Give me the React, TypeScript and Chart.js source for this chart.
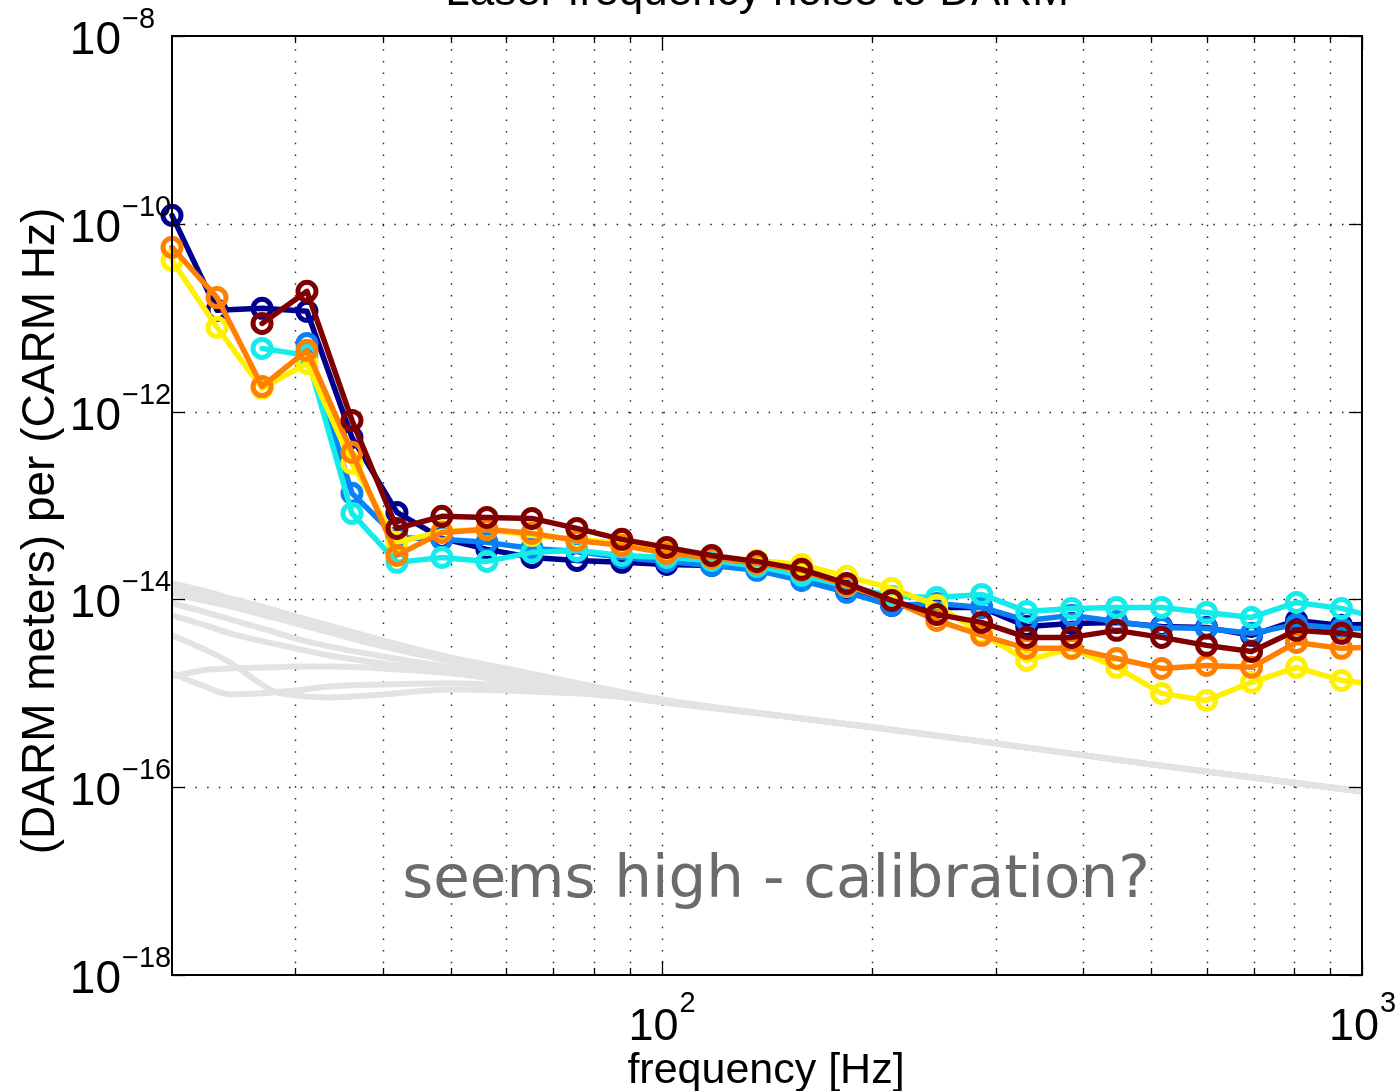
import React, { useEffect, useRef } from "react";
import { Chart, registerables } from "chart.js";

Chart.register(...registerables);

// ---------- data ----------
const frequencies = [
  20.0, 23.19, 26.89, 31.17, 36.14, 41.9, 48.57, 56.32, 65.29, 75.69, 87.75, 101.7, 117.9, 136.8,
  158.5, 183.8, 213.1, 247.1, 286.4, 332.1, 385.0, 446.3, 517.5, 599.9, 695.5, 806.3, 934.9, 1084,
];

const navySeries = [
  1.23e-10, 1.2e-11, 1.26e-11, 1.17e-11, 5.31e-13, 8.44e-14, 4.46e-14, 3.41e-14, 2.8e-14, 2.6e-14,
  2.48e-14, 2.36e-14, 2.3e-14, 2.14e-14, 1.67e-14, 1.22e-14, 8.63e-15, 8.22e-15, 8.22e-15, 5.16e-15,
  5.55e-15, 5.69e-15, 5.16e-15, 5.03e-15, 4.14e-15, 5.97e-15, 5.29e-15, 5.55e-15,
];
const blueSeries = [
  null, null, null, 5.32e-12, 1.35e-13, 4.57e-14, 4.36e-14, 4.05e-14, 3.49e-14, 3.24e-14,
  2.8e-14, 2.54e-14, 2.3e-14, 2.04e-14, 1.59e-14, 1.19e-14, 8.63e-15, 9.07e-15, 8.22e-15, 5.97e-15,
  6.76e-15, 5.83e-15, 5.03e-15, 4.91e-15, 4.35e-15, 5.42e-15, 4.91e-15, 4.91e-15,
];
const cyanSeries = [
  null, null, 4.71e-12, 3.97e-12, 8.24e-14, 2.48e-14, 2.8e-14, 2.54e-14, 3.17e-14, 3.32e-14,
  2.94e-14, 2.8e-14, 2.6e-14, 2.25e-14, 1.8e-14, 1.38e-14, 1.08e-14, 1.05e-14, 1.13e-14, 7.45e-15,
  8.02e-15, 8.22e-15, 8.22e-15, 7.27e-15, 6.43e-15, 9.29e-15, 8.02e-15, 6.0e-15,
];
const yellowSeries = [
  4.07e-11, 7.89e-12, 1.77e-12, 3.26e-12, 2.81e-13, 4.05e-14, 5.3e-14, 5.57e-14, 4.8e-14, 4.36e-14,
  3.95e-14, 3.32e-14, 2.8e-14, 2.6e-14, 2.36e-14, 1.76e-14, 1.31e-14, 8.63e-15, 4.35e-15, 2.24e-15,
  3.01e-15, 1.89e-15, 9.98e-16, 8.4e-16, 1.31e-15, 1.89e-15, 1.37e-15, 1.21e-15,
];
const orangeSeries = [
  5.61e-11, 1.64e-11, 1.85e-12, 4.49e-12, 3.68e-13, 2.94e-14, 5.17e-14, 5.57e-14, 5.05e-14, 4.25e-14,
  3.76e-14, 3.09e-14, 2.8e-14, 2.42e-14, 2.04e-14, 1.41e-14, 9.76e-15, 5.97e-15, 4.14e-15, 3.01e-15,
  3.01e-15, 2.35e-15, 1.84e-15, 1.98e-15, 1.89e-15, 3.48e-15, 3.01e-15, 3.16e-15,
];
const darkRedSeries = [
  null, null, 8.69e-12, 1.91e-11, 8.05e-13, 5.7e-14, 7.66e-14, 7.47e-14, 7.29e-14, 5.7e-14,
  4.36e-14, 3.58e-14, 2.94e-14, 2.54e-14, 2.09e-14, 1.48e-14, 9.76e-15, 6.92e-15, 5.69e-15, 3.94e-15,
  3.94e-15, 4.68e-15, 3.94e-15, 3.24e-15, 2.79e-15, 4.68e-15, 4.35e-15, 3.84e-15,
];

const seriesColors = ["#00008F", "#0A80F5", "#14EBEB", "#FFF000", "#FF8000", "#800000"];
const seriesNames = ["navy", "blue", "cyan", "yellow", "orange", "darkred"];

const grayFrequencies = [20, 22.1, 24.2, 27.8, 30, 33.5, 40, 50, 60, 80, 100, 150, 200, 300, 500, 1000];
const gray1 = [1.48e-14, 1.25e-14, 1.03e-14, 7.83e-15, 6.59e-15, 5.29e-15, 3.66e-15, 2.41e-15, 1.84e-15, 1.18e-15, 8.61e-16, 5.68e-16, 4.34e-16, 2.93e-16, 1.75e-16, 9.02e-17];
const gray2 = [1.31e-14, 1.1e-14, 9.29e-15, 7.09e-15, 5.97e-15, 4.79e-15, 3.4e-15, 2.3e-15, 1.75e-15, 1.15e-15, 8.4e-16, 5.68e-16, 4.34e-16, 2.93e-16, 1.75e-16, 9.02e-17];
const gray3 = [1.16e-14, 9.76e-15, 8.42e-15, 6.43e-15, 5.55e-15, 4.45e-15, 3.16e-15, 2.19e-15, 1.71e-15, 1.13e-15, 8.4e-16, 5.68e-16, 4.34e-16, 2.93e-16, 1.75e-16, 9.02e-17];
const gray4 = [9.07e-15, 7.45e-15, 6.12e-15, 4.56e-15, 3.84e-15, 3.16e-15, 2.47e-15, 1.89e-15, 1.55e-15, 1.07e-15, 8.2e-16, 5.68e-16, 4.34e-16, 2.93e-16, 1.75e-16, 9.02e-17];
const gray5 = [6.76e-15, 5.42e-15, 4.35e-15, 3.4e-15, 3.01e-15, 2.53e-15, 2.08e-15, 1.67e-15, 1.41e-15, 1.02e-15, 8.0e-16, 5.68e-16, 4.34e-16, 2.93e-16, 1.75e-16, 9.02e-17];
const gray6 = [4.14e-15, 3.01e-15, 2.13e-15, 1.07e-15, 9.5e-16, 9.04e-16, 9.73e-16, 1.1e-15, 1.07e-15, 9.7e-16, 8.2e-16, 5.68e-16, 4.34e-16, 2.93e-16, 1.75e-16, 9.02e-17];
const gray7 = [1.63e-15, 1.21e-15, 9.73e-16, 1.02e-15, 1.07e-15, 1.18e-15, 1.24e-15, 1.28e-15, 1.21e-15, 1.02e-15, 8.2e-16, 5.68e-16, 4.34e-16, 2.93e-16, 1.75e-16, 9.02e-17];
const gray8 = [1.51e-15, 1.75e-15, 1.84e-15, 1.89e-15, 1.93e-15, 1.93e-15, 1.84e-15, 1.63e-15, 1.37e-15, 1.07e-15, 8.4e-16, 5.68e-16, 4.34e-16, 2.93e-16, 1.75e-16, 9.02e-17];
const grayCurves = [gray1, gray2, gray3, gray4, gray5, gray6, gray7, gray8];

const xMin = 20;
const xMax = 1000;
const yMin = 1e-18;
const yMax = 1e-8;
const xMinorGrid = [30, 40, 50, 60, 70, 80, 90, 200, 300, 400, 500, 600, 700, 800, 900];
const xMajorExponents = [2, 3];
const yMajorExponents = [-18, -16, -14, -12, -10, -8];

const titleText = "Laser frequency noise to DARM";
const xTitle = "frequency [Hz]";
const yTitle = "(DARM meters) per (CARM Hz)";
const noteText = "seems high - calibration?";

const SANS = '"Liberation Sans", Arial, Helvetica, sans-serif';

const matlabAxes = {
  id: "matlabAxes",
  beforeDatasetsDraw(chart: any) {
    const { ctx, chartArea: a, scales } = chart;
    const x = scales.x;
    const y = scales.y;
    ctx.save();
    ctx.strokeStyle = "#222";
    ctx.lineWidth = 1.4;
    ctx.setLineDash([1.5, 10.2]);
    const xs = [...xMinorGrid, ...xMajorExponents.map((e) => Math.pow(10, e))];
    for (const v of xs) {
      const px = Math.round(x.getPixelForValue(v)) + 0.5;
      if (px <= a.left + 1 || px >= a.right - 1) continue;
      ctx.beginPath();
      ctx.moveTo(px, a.bottom);
      ctx.lineTo(px, a.top);
      ctx.stroke();
    }
    for (const e of yMajorExponents) {
      const py = Math.round(y.getPixelForValue(Math.pow(10, e))) + 0.5;
      if (py <= a.top + 1 || py >= a.bottom - 1) continue;
      ctx.beginPath();
      ctx.moveTo(a.left, py);
      ctx.lineTo(a.right, py);
      ctx.stroke();
    }
    ctx.restore();
  },
  afterDatasetsDraw(chart: any) {
    const { ctx, chartArea: a, scales } = chart;
    const x = scales.x;
    const y = scales.y;
    ctx.save();
    ctx.strokeStyle = "#000";
    ctx.setLineDash([]);
    ctx.lineWidth = 1.3;
    const tick = (x1: number, y1: number, x2: number, y2: number) => {
      ctx.beginPath();
      ctx.moveTo(x1, y1);
      ctx.lineTo(x2, y2);
      ctx.stroke();
    };
    for (const v of xMinorGrid) {
      const px = Math.round(x.getPixelForValue(v)) + 0.5;
      tick(px, a.bottom, px, a.bottom - 7);
      tick(px, a.top, px, a.top + 7);
    }
    for (const e of xMajorExponents) {
      const px = Math.round(x.getPixelForValue(Math.pow(10, e))) + 0.5;
      tick(px, a.bottom, px, a.bottom - 14);
      tick(px, a.top, px, a.top + 14);
    }
    for (const e of yMajorExponents) {
      const py = Math.round(y.getPixelForValue(Math.pow(10, e))) + 0.5;
      tick(a.left, py, a.left + 13, py);
      tick(a.right, py, a.right - 13, py);
    }
    ctx.lineWidth = 2;
    ctx.strokeRect(a.left, a.top, a.right - a.left, a.bottom - a.top);
    ctx.restore();
  },
  afterDraw(chart: any) {
    const { ctx, chartArea: a, scales } = chart;
    const x = scales.x;
    const y = scales.y;
    ctx.save();
    ctx.fillStyle = "#000";
    ctx.textBaseline = "alphabetic";
    // y tick labels
    for (const e of yMajorExponents) {
      const py = y.getPixelForValue(Math.pow(10, e));
      ctx.font = `46px ${SANS}`;
      ctx.textAlign = "right";
      ctx.fillText("10", 121, py + 18);
      ctx.font = `29px ${SANS}`;
      ctx.textAlign = "left";
      ctx.fillText("\u2212" + Math.abs(e), 122, py - 8);
    }
    // x tick labels
    for (const e of xMajorExponents) {
      const px = x.getPixelForValue(Math.pow(10, e));
      ctx.font = `45px ${SANS}`;
      const w10 = ctx.measureText("10").width;
      ctx.font = `29px ${SANS}`;
      const ws = ctx.measureText(String(e)).width;
      const start = px - (w10 + ws) / 2;
      ctx.textAlign = "left";
      ctx.font = `45px ${SANS}`;
      ctx.fillText("10", start, a.bottom + 65);
      ctx.font = `29px ${SANS}`;
      ctx.fillText(String(e), start + w10 + 1, a.bottom + 37);
    }
    // axis titles
    ctx.font = `43px ${SANS}`;
    ctx.textAlign = "center";
    ctx.fillText(xTitle, 766, 1083);
    ctx.save();
    ctx.translate(54, 531);
    ctx.rotate(-Math.PI / 2);
    ctx.font = `46px ${SANS}`;
    ctx.textAlign = "center";
    ctx.fillText(yTitle, 0, 0);
    ctx.restore();
    // title (mostly clipped at top)
    ctx.font = `44px ${SANS}`;
    ctx.textAlign = "center";
    ctx.fillText(titleText, 757, 5);
    // annotation
    ctx.font = `59.5px "DejaVu Sans", sans-serif`;
    ctx.fillStyle = "#6b6b6b";
    ctx.textAlign = "center";
    ctx.fillText(noteText, 776, 897);
    ctx.restore();
  },
};

export default function App() {
  const canvasRef = useRef<HTMLCanvasElement | null>(null);

  useEffect(() => {
    const canvas = canvasRef.current;
    if (!canvas) return;
    const seriesValues = [navySeries, blueSeries, cyanSeries, yellowSeries, orangeSeries, darkRedSeries];
    const colored = seriesValues.map((vals, i) => ({
      label: seriesNames[i],
      data: frequencies.map((f, k) => ({ x: f, y: vals[k] })),
      borderColor: seriesColors[i],
      backgroundColor: "rgba(0,0,0,0)",
      borderWidth: 5.5,
      borderJoinStyle: "round",
      borderCapStyle: "round",
      pointStyle: "circle",
      pointRadius: 9,
      pointHoverRadius: 9,
      pointBorderWidth: 5,
      pointBorderColor: seriesColors[i],
      pointBackgroundColor: "rgba(0,0,0,0)",
      tension: 0,
      spanGaps: false,
      order: seriesValues.length - i,
      clip: { left: 20, top: 20, right: 0, bottom: 20 },
    }));
    const grays = grayCurves.map((vals, i) => ({
      label: "model" + (i + 1),
      data: grayFrequencies.map((f, k) => ({ x: f, y: vals[k] })),
      borderColor: "#E3E3E3",
      backgroundColor: "rgba(0,0,0,0)",
      borderWidth: 6,
      pointRadius: 0,
      pointHoverRadius: 0,
      cubicInterpolationMode: "monotone",
      order: 100,
      clip: 0,
    }));

    const chart = new Chart(canvas, {
      type: "line",
      data: { datasets: [...grays, ...colored] as any },
      options: {
        animation: false,
        responsive: false,
        devicePixelRatio: 1,
        layout: { padding: { left: 172, top: 36, right: 36, bottom: 116 } },
        plugins: { legend: { display: false }, tooltip: { enabled: false }, title: { display: false } },
        events: [],
        scales: {
          x: { type: "logarithmic", min: xMin, max: xMax, display: false },
          y: { type: "logarithmic", min: yMin, max: yMax, display: false },
        },
      },
      plugins: [matlabAxes],
    });
    return () => chart.destroy();
  }, []);

  return (
    <div style={{ position: "fixed", left: 0, top: 0, width: 1398, height: 1091, background: "#fff" }}>
      <canvas ref={canvasRef} width={1398} height={1091} style={{ display: "block" }} />
    </div>
  );
}
